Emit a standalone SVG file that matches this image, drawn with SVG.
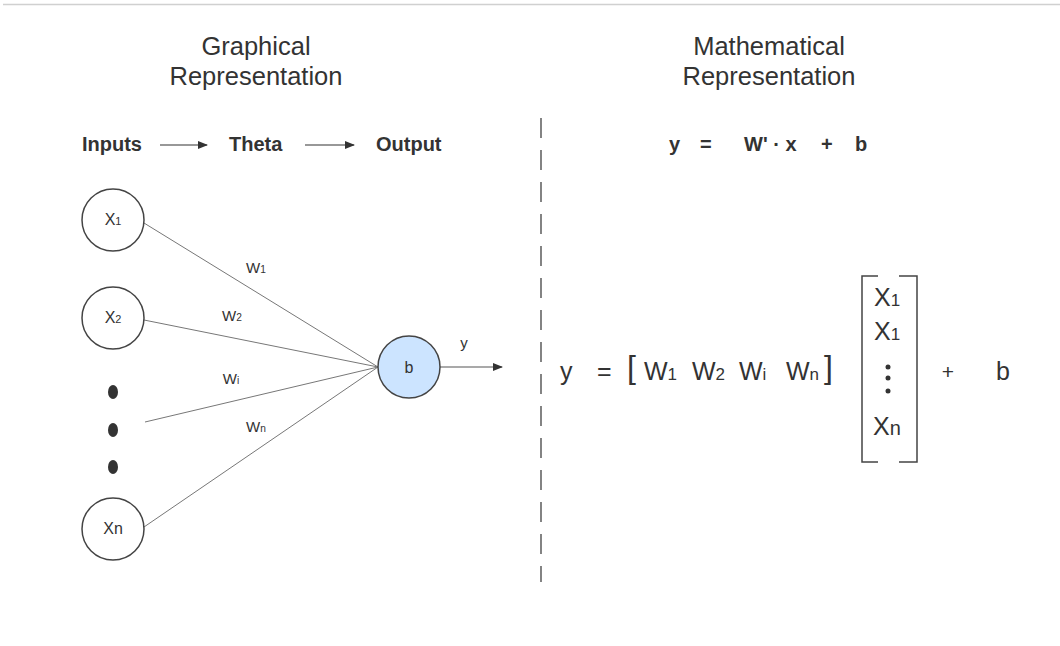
<svg xmlns="http://www.w3.org/2000/svg" width="1060" height="646" viewBox="0 0 1060 646">
<defs>
<style>
.t{font-family:"Liberation Sans",Arial,sans-serif;fill:#333}
.h{font-size:25.5px;text-anchor:middle}
.b{font-size:20px;font-weight:bold}
.n{font-size:16px;text-anchor:middle}
.w{font-size:15px;text-anchor:middle}
.m{font-size:25px}
.s{font-size:68%}
.node{fill:#fff;stroke:#444;stroke-width:1.5}
.ln{stroke:#777;stroke-width:1;fill:none}
</style>
<marker id="ah" markerWidth="10" markerHeight="8" refX="9" refY="4" orient="auto" markerUnits="userSpaceOnUse">
<path d="M0,0 L10,4 L0,8 Z" fill="#333"/>
</marker>
</defs>
<rect width="1060" height="646" fill="#fff"/>
<line x1="3" y1="4.5" x2="1060" y2="4.5" stroke="#d0d0d0" stroke-width="1.5"/>

<g id="titles">
<text class="t h" x="256" y="55">Graphical</text>
<text class="t h" x="256" y="85">Representation</text>
<text class="t h" x="769" y="55">Mathematical</text>
<text class="t h" x="769" y="85">Representation</text>
</g>

<g id="flow">
<text class="t b" x="82" y="151">Inputs</text>
<text class="t b" x="229" y="151">Theta</text>
<text class="t b" x="376" y="151">Output</text>
</g>

<g id="connectors">
<line x1="160" y1="145" x2="207" y2="145" stroke="#333" stroke-width="1.2" marker-end="url(#ah)"/>
<line x1="305" y1="145" x2="354" y2="145" stroke="#333" stroke-width="1.2" marker-end="url(#ah)"/>
<line class="ln" x1="144" y1="223" x2="378" y2="367"/>
<line class="ln" x1="144" y1="320" x2="378" y2="367"/>
<line class="ln" x1="145" y1="422" x2="378" y2="367"/>
<line class="ln" x1="144" y1="527" x2="378" y2="367"/>
<line x1="440" y1="367" x2="502" y2="367" stroke="#555" stroke-width="1.2" marker-end="url(#ah)"/>
<text class="t w" x="256" y="273">W<tspan class="s">1</tspan></text>
<text class="t w" x="232" y="321">W<tspan class="s">2</tspan></text>
<text class="t w" x="231" y="384">W<tspan class="s">i</tspan></text>
<text class="t w" x="256" y="432">W<tspan class="s">n</tspan></text>
<text class="t w" x="464" y="348">y</text>
</g>

<g id="x1"><circle class="node" cx="113" cy="220" r="31"/><text class="t n" x="113" y="225">X<tspan class="s">1</tspan></text></g>
<g id="x2"><circle class="node" cx="113" cy="318" r="31"/><text class="t n" x="113" y="323">X<tspan class="s">2</tspan></text></g>
<g id="dots">
<ellipse cx="113" cy="392" rx="5" ry="7" fill="#333"/>
<ellipse cx="113" cy="430" rx="5" ry="7" fill="#333"/>
<ellipse cx="113" cy="467" rx="5" ry="7" fill="#333"/>
</g>
<g id="xn"><circle class="node" cx="113" cy="529" r="31"/><text class="t n" x="113" y="534">Xn</text></g>
<g id="b"><circle cx="409" cy="367" r="31" fill="#cce4ff" stroke="#444" stroke-width="1.5"/><text class="t n" x="409" y="373">b</text></g>

<line id="divider" x1="541" y1="118" x2="541" y2="582" stroke="#333" stroke-width="1.2" stroke-dasharray="20 12"/>

<g id="eq-top">
<text class="t b" x="669" y="151">y</text>
<text class="t b" x="700" y="151">=</text>
<text class="t b" x="744" y="151">W' · x</text>
<text class="t b" x="821" y="151">+</text>
<text class="t b" x="855" y="151">b</text>
</g>

<g id="eq-main">
<text class="t m" x="560" y="380">y</text>
<text class="t m" x="597" y="380">=</text>
<text class="t" x="627" y="378" font-size="32">[</text>
<text class="t m" x="644" y="380">W<tspan class="s">1</tspan></text>
<text class="t m" x="692" y="380">W<tspan class="s">2</tspan></text>
<text class="t m" x="739" y="380">W<tspan class="s">i</tspan></text>
<text class="t m" x="786" y="380">W<tspan class="s">n</tspan></text>
<text class="t" x="824" y="378" font-size="32">]</text>
<path d="M878,276 H862 V462 H878 M899,276 H917 V462 H899" fill="none" stroke="#444" stroke-width="1.5"/>
<text class="t m" x="874" y="306" font-size="23">X<tspan class="s">1</tspan></text>
<text class="t m" x="874" y="340" font-size="23">X<tspan class="s">1</tspan></text>
<circle cx="888" cy="367" r="2.5" fill="#333"/>
<circle cx="888" cy="378" r="2.5" fill="#333"/>
<circle cx="888" cy="391" r="2.5" fill="#333"/>
<text class="t m" x="873" y="435" font-size="23">X<tspan font-size="80%">n</tspan></text>
<text class="t" x="948" y="379" font-size="21" text-anchor="middle">+</text>
<text class="t m" x="1003" y="380" font-size="23" text-anchor="middle">b</text>
</g>
</svg>
